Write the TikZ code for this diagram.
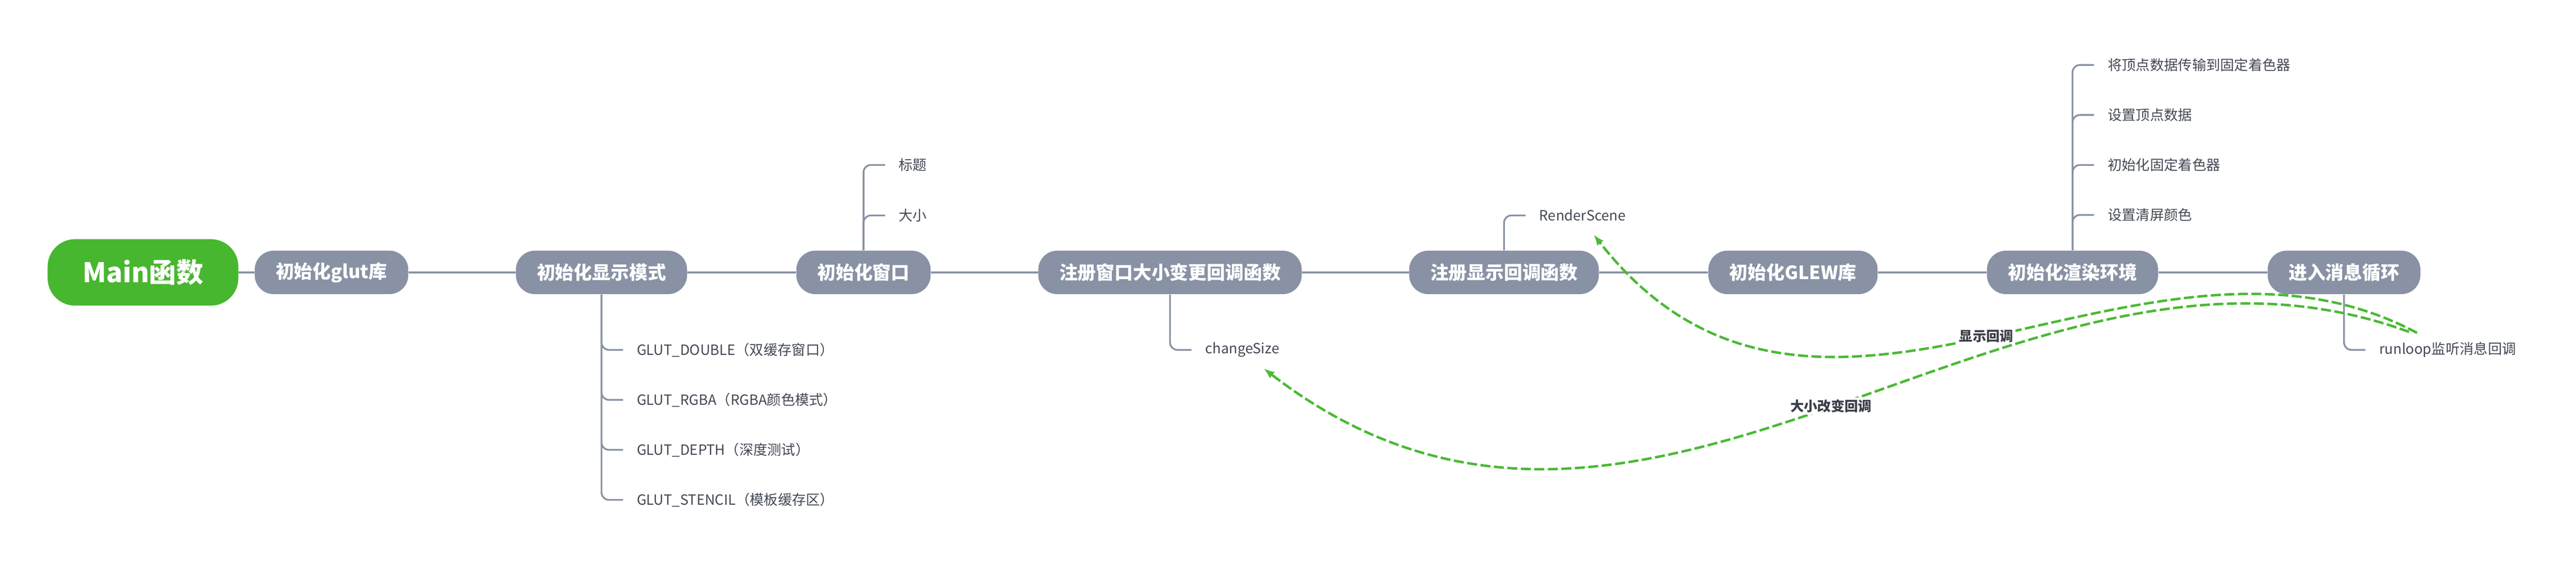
\documentclass[tikz,border=0pt]{standalone}
\usepackage{fontspec}
\setmainfont{Noto Sans CJK SC}
\usetikzlibrary{arrows.meta}
\definecolor{topicgreen}{HTML}{47B72F}
\definecolor{topicgray}{HTML}{8892A4}
\definecolor{leaftext}{HTML}{434854}
\definecolor{reltext}{HTML}{3A3E47}
\definecolor{relgreen}{HTML}{4AB934}
\tikzset{
	root/.style={fill=topicgreen, rounded corners=0.55cm, minimum height=1.33cm, inner xsep=0.70cm, text=white, font=\fontsize{15.4}{18}\selectfont\bfseries},
	topic/.style={fill=topicgray, rounded corners=0.38cm, minimum height=0.87cm, inner xsep=0.42cm, text=white, font=\fontsize{10.5}{12}\selectfont\bfseries},
	leaf/.style={anchor=west, inner xsep=0.27cm, inner ysep=0.05cm, text=leaftext, font=\fontsize{8}{10}\selectfont},
	spine/.style={draw=topicgray, line width=1.15pt},
	branch/.style={draw=topicgray, line width=1pt, rounded corners=0.15cm},
	relation/.style={draw=relgreen, line width=1.4pt, dash pattern=on 0.2cm off 0.07cm, -{Latex[length=0.22cm,width=0.16cm]}},
	rellabel/.style={fill=white, text=reltext, font=\fontsize{7.7}{9}\selectfont\bfseries, inner sep=0.04cm}
}
\begin{document}
\begin{tikzpicture}
		\useasboundingbox (0,0) rectangle (51.52,11.30);
		% main topics
		\node[root]  (main)   at (2.86,5.85)  {Main函数};
		\node[topic] (glut)   at (6.63,5.85)  {初始化glut库};
		\node[topic] (mode)   at (12.03,5.85) {初始化显示模式};
		\node[topic] (win)    at (17.27,5.85) {初始化窗口};
		\node[topic] (resize) at (23.40,5.85) {注册窗口大小变更回调函数};
		\node[topic] (disp)   at (30.08,5.85) {注册显示回调函数};
		\node[topic] (glew)   at (35.86,5.85) {初始化GLEW库};
		\node[topic] (render) at (41.45,5.85) {初始化渲染环境};
		\node[topic] (loop)   at (46.88,5.85) {进入消息循环};
		\foreach \a/\b in {main/glut,glut/mode,mode/win,win/resize,resize/disp,disp/glew,glew/render,render/loop}
		\draw[spine] (\a) -- (\b);
		% display mode
		\foreach \y/\t [count=\i] in {4.30/GLUT\_DOUBLE（双缓存窗口）,3.30/GLUT\_RGBA（RGBA颜色模式）,2.30/GLUT\_DEPTH（深度测试）,1.30/GLUT\_STENCIL（模板缓存区）}
		{
			\node[leaf] (mode\i) at (12.46,\y) {\t};
			\draw[branch] (mode.south) |- (mode\i.west);
		}
		% window
		\foreach \y/\t [count=\i] in {8.00/标题,6.99/大小}
		{
			\node[leaf] (win\i) at (17.70,\y) {\t};
			\draw[branch] (win.north) |- (win\i.west);
		}
		% callbacks
		\node[leaf] (size) at (23.83,4.30) {changeSize};
		\draw[branch] (resize.south) |- (size.west);
		\node[leaf] (scene) at (30.51,6.99) {RenderScene};
		\draw[branch] (disp.north) |- (scene.west);
		% render setup
		\foreach \y/\t [count=\i] in {10.00/将顶点数据传输到固定着色器,9.00/设置顶点数据,8.00/初始化固定着色器,7.00/设置清屏颜色}
		{
			\node[leaf] (render\i) at (41.88,\y) {\t};
			\draw[branch] (render.north) |- (render\i.west);
		}
		% run loop
		\node[leaf] (runloop) at (47.31,4.30) {runloop监听消息回调};
		\draw[branch] (loop.south) |- (runloop.west);
		% relations
		\draw[relation] ([shift={(1.03,0.34)}]runloop.west) .. controls (42.85,7.57) and (36.35,0.89) .. node[rellabel] {显示回调} ([shift={(1.36,-0.38)}]scene.west);
		\draw[relation] ([shift={(0.87,0.36)}]runloop.west) .. controls (40.24,7.58) and (32.93,-1.97) .. node[rellabel] {大小改变回调} ([shift={(1.44,-0.37)}]size.west);
\end{tikzpicture}
\end{document}
